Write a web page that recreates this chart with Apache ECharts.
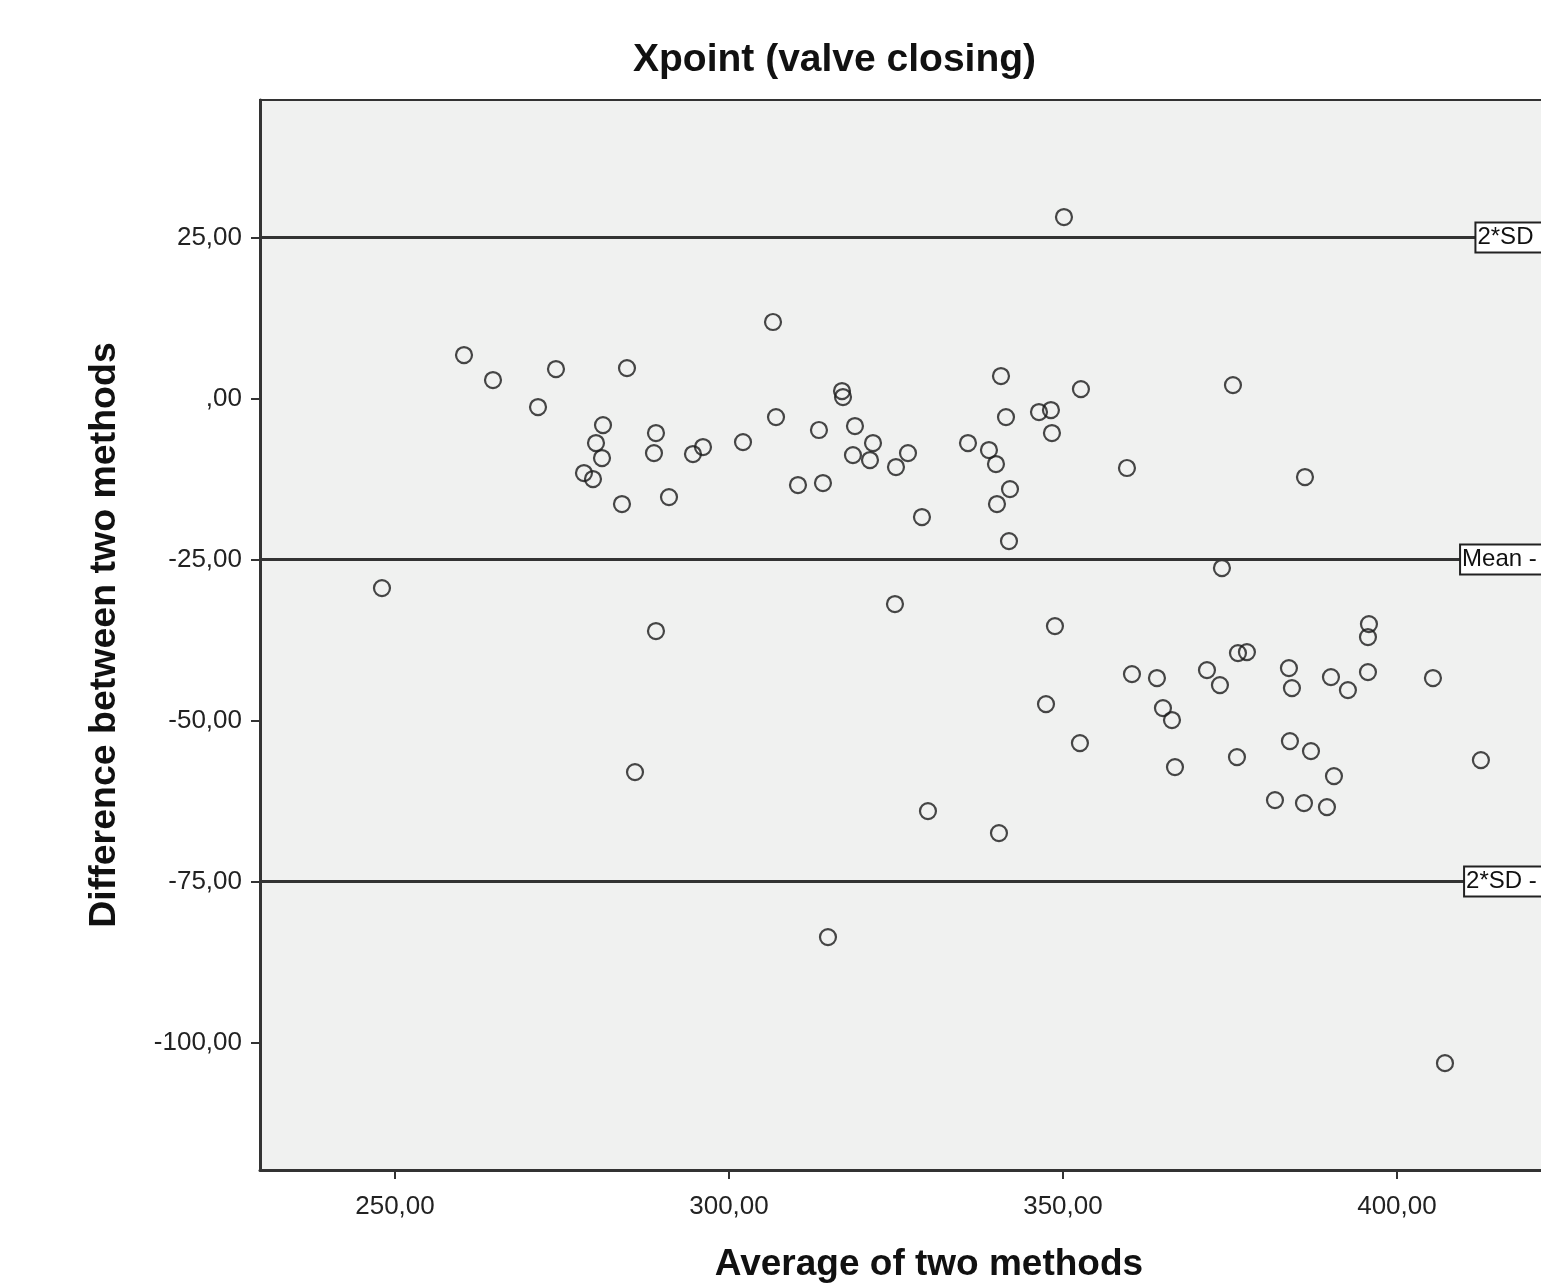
<!DOCTYPE html>
<html>
<head>
<meta charset="utf-8">
<script src="https://cdn.jsdelivr.net/npm/echarts@6/dist/echarts.min.js"></script>
<style>
html,body{margin:0;padding:0;background:#fff;overflow:hidden;width:1541px;height:1284px;}
#c{width:1598px;height:1284px;}
</style>
</head>
<body>
<div id="c"></div>
<script>
// Average of two methods (x) and difference between two methods (y)
const avgValues = [248.05,260.33,264.67,271.41,274.10,278.29,279.64,280.09,281.14,280.99,283.98,284.73,285.93,289.07,288.77,289.07,291.02,294.61,296.11,302.10,306.59,307.04,310.33,313.47,314.07,314.82,316.92,317.07,318.56,318.86,321.11,321.56,324.85,325.00,326.80,328.89,329.79,335.78,338.92,339.97,340.12,340.42,340.72,341.47,342.07,341.92,346.41,348.20,348.35,347.46,348.80,350.15,352.69,352.54,359.58,360.33,364.07,364.97,366.32,366.77,371.56,373.50,373.80,375.45,376.20,377.54,376.05,381.74,383.83,384.28,383.98,386.08,386.23,387.13,389.52,390.12,390.57,392.66,395.81,395.66,395.66,405.39,407.19,412.57];
const diffValues = [-29.35,6.83,2.95,-1.24,4.66,-11.49,-12.42,-6.83,-4.04,-9.16,-16.30,4.81,-57.92,-5.28,-8.39,-36.02,-15.22,-8.54,-7.45,-6.68,11.96,-2.80,-13.35,-4.81,-13.04,-83.54,1.24,0.31,-8.70,-4.19,-9.47,-6.83,-31.83,-10.56,-8.39,-18.32,-63.98,-6.83,-7.92,-10.09,-16.30,-67.39,3.57,-2.80,-13.98,-22.05,-2.02,-1.71,-5.28,-47.36,-35.25,28.26,1.55,-53.42,-10.71,-42.70,-43.32,-47.98,-49.84,-57.14,-42.08,-44.41,-26.24,2.17,-39.44,-39.29,-55.59,-62.27,-41.77,-44.88,-53.11,-62.73,-12.11,-54.66,-63.35,-43.17,-58.54,-45.19,-34.94,-36.96,-42.39,-43.32,-103.11,-56.06];

// Reference lines (upper limit, mean, lower limit) and their labels
const refValues = [25.1, -24.9, -74.9];
const refLabels = ['2*SD', 'Mean -', '2*SD -'];
const refLabelAt = [411.9, 409.6, 410.2];

// Tick labels
const xTicks = [250, 300, 350, 400];
const yTicks = [25, 0, -25, -50, -75, -100];

const xMin = 229.79, xMax = 430.1;
const yMin = -119.7, yMax = 46.43;

const fmt = v => (Math.abs(v) < 1e-9 ? ',00' : v.toFixed(2).replace('.', ','));
const FONT = "'Liberation Sans', Arial, sans-serif";

const points = avgValues.map((x, i) => [x, diffValues[i]]);

const markData = refValues.map((v, i) => [
  {
    coord: [xMin, v],
    label: {
      show: true,
      position: 'end',
      distance: 0,
      formatter: refLabels[i],
      color: '#111',
      fontFamily: FONT,
      fontSize: 24,
      backgroundColor: '#ffffff',
      borderColor: '#222',
      borderWidth: 2,
      padding: [3, 80, 1, 1]
    }
  },
  { coord: [refLabelAt[i], v] }
]);

const chart = echarts.init(document.getElementById('c'), null, { renderer: 'canvas' });
chart.setOption({
  animation: false,
  backgroundColor: '#ffffff',
  title: {
    text: 'Xpoint (valve closing)',
    left: 628,
    top: 36,
    textStyle: { fontFamily: FONT, fontSize: 39, fontWeight: 'bold', color: '#111' }
  },
  grid: {
    left: 260, top: 100, right: 0, bottom: 114,
    show: true,
    backgroundColor: '#F0F1F0',
    borderColor: '#333',
    borderWidth: 2,
    containLabel: false,
    outerBoundsMode: 'none'
  },
  xAxis: {
    type: 'value',
    min: xMin, max: xMax,
    name: 'Average of two methods',
    nameLocation: 'middle',
    nameGap: 76,
    nameTextStyle: { fontFamily: FONT, fontSize: 37, fontWeight: 'bold', color: '#111' },
    axisLine: { show: true, onZero: false, lineStyle: { color: '#333', width: 3 } },
    axisTick: { show: true, length: 9, customValues: xTicks, lineStyle: { color: '#333', width: 2 } },
    axisLabel: { customValues: xTicks, formatter: fmt, margin: 24, fontFamily: FONT, fontSize: 26, color: '#222' },
    splitLine: { show: false }
  },
  yAxis: {
    type: 'value',
    min: yMin, max: yMax,
    name: 'Difference between two methods',
    nameLocation: 'middle',
    nameGap: 136,
    nameTextStyle: { fontFamily: FONT, fontSize: 37.5, fontWeight: 'bold', color: '#111' },
    axisLine: { show: true, onZero: false, lineStyle: { color: '#333', width: 3 } },
    axisTick: { show: true, length: 9, customValues: yTicks, lineStyle: { color: '#333', width: 2 } },
    axisLabel: { customValues: yTicks, formatter: fmt, margin: 18, padding: [5, 0, 0, 0], fontFamily: FONT, fontSize: 26, color: '#222' },
    splitLine: { show: false }
  },
  series: [{
    type: 'scatter',
    data: points,
    symbol: 'circle',
    symbolSize: 16,
    itemStyle: { color: 'rgba(0,0,0,0)', borderColor: '#1a1a1a', borderWidth: 2.2 },
    z: 3,
    markLine: {
      silent: true,
      symbol: ['none', 'none'],
      lineStyle: { color: '#333', width: 3, type: 'solid' },
      emphasis: { disabled: true },
      data: markData
    }
  }]
});
</script>
</body>
</html>
